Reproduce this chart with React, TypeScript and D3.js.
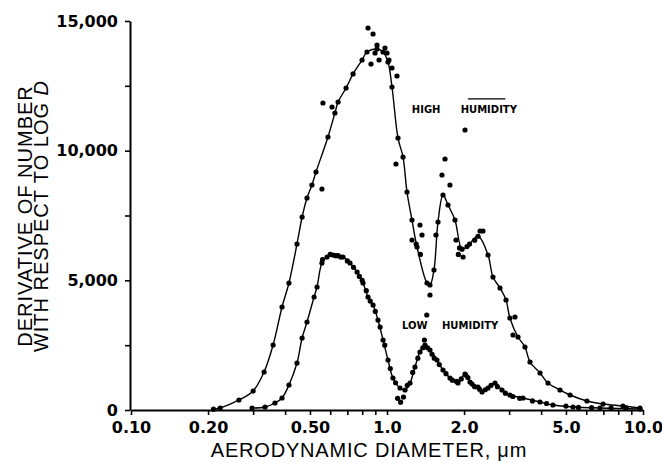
import React, { useEffect, useRef } from "react";
import * as d3 from "d3";

// smoothed curves: [diameter um, dN/dlogD]
const highCurve: [number, number][] = [
  [0.21, 30], [0.223, 77], [0.264, 386], [0.3, 733], [0.331, 1465], [0.359, 2506],
  [0.389, 3971], [0.414, 4897], [0.445, 6401], [0.466, 7442], [0.487, 8175],
  [0.509, 8676], [0.528, 9178], [0.588, 10527], [0.626, 11452], [0.644, 11876],
  [0.692, 12416], [0.737, 12960], [0.799, 13496], [0.835, 13804], [0.914, 13920],
  [0.965, 13804], [1.009, 13419], [1.046, 12455], [1.104, 10488], [1.155, 9756],
  [1.197, 8406], [1.252, 7326], [1.31, 6285], [1.433, 4897], [1.472, 4820],
  [1.526, 5398], [1.582, 7249], [1.655, 8290], [1.731, 7905], [1.843, 7326],
  [1.963, 6200], [2.054, 6300], [2.268, 6700], [2.481, 5977], [2.594, 5128],
  [2.763, 4704], [2.917, 4242], [3.02, 3548], [3.249, 2815], [3.459, 2429],
  [3.619, 1851], [3.96, 1427], [4.256, 1041], [4.74, 771], [5.19, 578],
  [6.04, 347], [6.98, 231], [8.35, 154], [9.73, 77],
];

const lowCurve: [number, number][] = [
  [0.297, 77], [0.334, 116], [0.365, 270], [0.389, 463], [0.414, 964], [0.445, 1812],
  [0.466, 2776], [0.487, 3393], [0.519, 4357], [0.533, 4743], [0.557, 5668],
  [0.583, 5900], [0.615, 5977], [0.644, 5950], [0.673, 5900], [0.717, 5668],
  [0.764, 5321], [0.806, 4897], [0.843, 4357], [0.882, 4049], [0.922, 3470],
  [0.965, 2699], [1.009, 1928], [1.055, 1234], [1.124, 848], [1.176, 771],
  [1.23, 1041], [1.286, 1658], [1.345, 2236], [1.407, 2506], [1.472, 2314],
  [1.567, 1928], [1.655, 1542], [1.762, 1234], [1.893, 1041], [2.017, 1388],
  [2.11, 1080], [2.268, 887], [2.35, 694], [2.481, 848], [2.642, 1041],
  [2.813, 771], [3.02, 578], [3.398, 463], [3.96, 309], [4.45, 193],
  [5.33, 116], [6.79, 77], [9.73, 39],
];

// scattered measurements that sit off the curves
const highScatter: [number, number][] = [
  [0.562, 11838], [0.61, 11684], [0.557, 8522], [0.843, 14730], [0.882, 14499],
  [0.914, 14074], [0.982, 13959], [0.898, 13766], [0.931, 13496], [0.866, 13342],
  [1.0, 13766], [1.018, 13496], [1.046, 13188], [1.094, 12879], [1.084, 9486],
  [1.345, 7134], [1.252, 6555], [1.37, 6748], [2.017, 10797], [1.685, 9679],
  [1.64, 9062], [1.762, 8676], [1.554, 6748], [1.86, 6555], [1.472, 4434],
  [2.31, 6902], [2.371, 6902], [3.162, 3586], [3.107, 2892], [1.982, 5900],
  [1.9, 6000], [1.92, 6250], [2.1, 6400], [2.2, 6550], [1.3, 6400], [1.35, 6000],
];

const lowScatter: [number, number][] = [
  [0.56, 5800], [0.6, 6000], [0.63, 5950], [0.66, 5900], [0.7, 5750], [0.74, 5500],
  [0.78, 5150], [0.8, 5000], [0.83, 4600], [0.86, 4200], [0.9, 3800], [0.94, 3200],
  [0.98, 2500], [1.03, 1600], [1.08, 1050], [1.1, 450], [1.13, 300], [1.16, 500],
  [1.2, 950], [1.26, 1450], [1.32, 2000], [1.38, 2400], [1.4, 2700], [1.43, 3663],
  [1.44, 2400], [1.5, 2150], [1.53, 2000], [1.6, 1750], [1.7, 1400], [1.8, 1150],
  [1.87, 1100], [1.95, 1200], [2.03, 1350], [2.07, 1250], [2.15, 1000], [2.2, 900],
  [2.3, 800], [2.42, 780], [2.55, 950], [2.7, 900], [2.9, 650], [3.1, 520],
  [3.3, 450], [3.7, 350], [4.2, 250], [5.0, 150], [5.6, 100], [6.3, 90], [7.5, 80],
  [8.6, 80],
];

const yTicks = [0, 2500, 5000, 7500, 10000, 12500, 15000];
const yLabels = [0, 5000, 10000, 15000];
const xTicks = [0.1, 0.2, 0.3, 0.4, 0.5, 0.6, 0.7, 0.8, 0.9, 1, 2, 3, 4, 5, 6, 7, 8, 9, 10];
const xLabels = [0.1, 0.2, 0.5, 1, 2, 5, 10];
const xLabelText = ["0.10", "0.20", "0.50", "1.0", "2.0", "5.0", "10.0"];

const W = 662;
const H = 462;
const margin = { top: 21, right: 19, bottom: 52, left: 131 };

const App = () => {
  const ref = useRef<SVGSVGElement>(null);

  useEffect(() => {
    const svg = d3.select(ref.current);
    svg.selectAll("*").remove();

    const x = d3.scaleLog().domain([0.1, 10]).range([margin.left, W - margin.right]);
    const y = d3.scaleLinear().domain([0, 15000]).range([H - margin.bottom, margin.top]);

    // Y axis
    const ya = svg
      .append("g")
      .attr("transform", `translate(${margin.left - 1},0)`)
      .call(
        d3
          .axisLeft(y)
          .tickValues(yTicks)
          .tickSize(5)
          .tickSizeOuter(0)
          .tickPadding(7)
          .tickFormat((d) => (yLabels.includes(+d) ? d3.format(",")(+d) : ""))
      );
    ya.select(".domain").attr("stroke-width", 2);
    ya.selectAll("line").attr("stroke-width", 1.6);
    ya.selectAll("text")
      .attr("font-family", "DejaVu Sans")
      .attr("font-weight", "bold")
      .attr("font-size", 16)
      .attr("fill", "#000");

    // X axis
    const xa = svg
      .append("g")
      .attr("transform", `translate(0,${H - margin.bottom})`)
      .call(
        d3
          .axisBottom(x)
          .tickValues(xTicks)
          .tickSize(5)
          .tickSizeOuter(0)
          .tickPadding(7)
          .tickFormat((d) => {
            const i = xLabels.indexOf(+d);
            return i >= 0 ? xLabelText[i] : "";
          })
      );
    xa.select(".domain").attr("stroke-width", 2);
    xa.selectAll("line").attr("stroke-width", 1.6);
    xa.selectAll("text")
      .attr("font-family", "DejaVu Sans")
      .attr("font-weight", "bold")
      .attr("font-size", 16)
      .attr("fill", "#000");

    const line = d3
      .line<[number, number]>()
      .x((d) => x(d[0]))
      .y((d) => y(d[1]))
      .curve(d3.curveCatmullRom.alpha(0.5));

    [highCurve, lowCurve].forEach((c) => {
      svg.append("path").datum(c).attr("d", line).attr("fill", "none")
        .attr("stroke", "#000").attr("stroke-width", 1.4);
    });

    // dots
    [highCurve, lowCurve, highScatter, lowScatter].forEach((pts) => {
      svg.append("g")
        .selectAll("circle")
        .data(pts)
        .enter()
        .append("circle")
        .attr("cx", (d) => x(d[0]))
        .attr("cy", (d) => y(d[1]))
        .attr("r", 2.6)
        .attr("fill", "#000");
    });

    // curve labels
    const lab = (t: string, d: number, v: number) =>
      svg.append("text")
        .attr("x", x(d))
        .attr("y", y(v))
        .attr("font-family", "DejaVu Sans")
        .attr("font-weight", "bold")
        .attr("font-size", 10)
        .text(t);
    lab("HIGH", 1.25, 11450);
    lab("HUMIDITY", 1.94, 11450);
    lab("LOW", 1.144, 3120);
    lab("HUMIDITY", 1.64, 3120);

    // rule over the label in the print
    svg.append("line")
      .attr("x1", x(2.07)).attr("x2", x(2.9))
      .attr("y1", y(12000)).attr("y2", y(12000))
      .attr("stroke", "#000").attr("stroke-width", 1.2);

    // axis titles
    svg.append("text")
      .attr("x", 369)
      .attr("y", 457)
      .attr("text-anchor", "middle")
      .attr("font-family", "Liberation Sans")
      .attr("font-size", 20)
      .attr("letter-spacing", 0.8)
      .text("AERODYNAMIC DIAMETER, \u03bcm");

    const yt = svg.append("text")
      .attr("transform", "translate(32,216) rotate(-90)")
      .attr("text-anchor", "middle")
      .attr("font-family", "Liberation Sans")
      .attr("font-size", 20)
      .attr("letter-spacing", 1);
    yt.append("tspan").attr("x", 0).attr("y", 0).text("DERIVATIVE OF NUMBER");
    const l2 = yt.append("tspan").attr("x", 0).attr("y", 16);
    l2.append("tspan").text("WITH RESPECT TO LOG ");
    l2.append("tspan").attr("font-style", "italic").text("D");
  }, []);

  return (
    <svg
      ref={ref}
      width={W}
      height={H}
      style={{ position: "absolute", left: 0, top: 0, background: "#fff" }}
    />
  );
};

export default App;
